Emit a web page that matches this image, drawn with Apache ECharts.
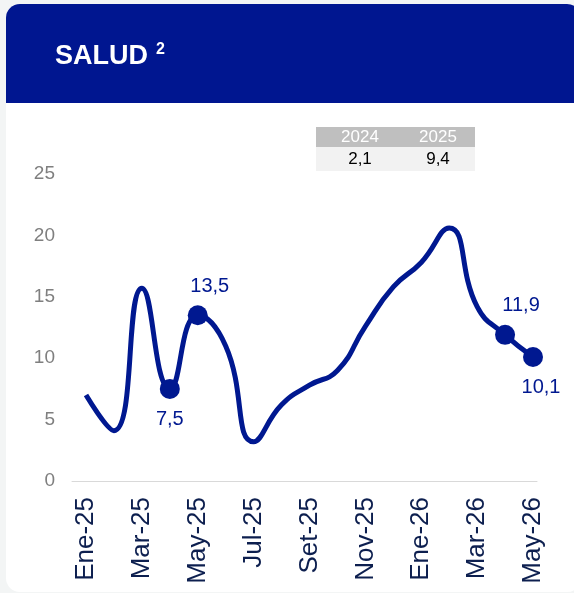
<!DOCTYPE html>
<html><head><meta charset="utf-8">
<script src="https://cdn.jsdelivr.net/npm/echarts@6/dist/echarts.min.js"></script>
<style>html,body{margin:0;padding:0;background:#f3f5f5;}#c{width:574px;height:593px;}</style>
</head><body><div id="c"></div>
<script>
const months = ['Ene-25','Feb-25','Mar-25','Abr-25','May-25','Jun-25','Jul-25','Ago-25','Set-25','Oct-25','Nov-25','Dic-25','Ene-26','Feb-26','Mar-26','Abr-26','May-26'];
const values = [7.0, 4.1, 15.7, 7.5, 13.5, 11.0, 3.2, 6.2, 7.8, 9.0, 12.6, 15.8, 17.8, 20.6, 14.2, 11.9, 10.1];
const markedIdx = [3, 4, 15, 16];
const labelPlace = ['below', 'above', 'above', 'below'];
const tableYears = ['2024', '2025'];
const tableValues = [2.1, 9.4];
const titleText = 'SALUD';
const titleSup = '2';

const fmt = v => String(v.toFixed(1)).replace('.', ',');
const navy = '#001890';

const markerData = months.map((m, i) => {
  const k = markedIdx.indexOf(i);
  if (k < 0) return null;
  const below = labelPlace[k] === 'below';
  return {
    value: values[i],
    label: {
      show: true,
      position: below ? 'bottom' : 'top',
      distance: below ? 11 : 9,
      offset: [i === 4 ? 12 : (i === 15 ? 16 : (i === 16 ? 8 : 0)), 0],
      formatter: p => fmt(p.value)
    }
  };
});

const chart = echarts.init(document.getElementById('c'));
chart.setOption({
  animation: false,
  backgroundColor: '#f3f5f5',
  graphic: [
    { type: 'rect', shape: { x: 6, y: 4, width: 575, height: 588, r: 14 }, style: { fill: '#ffffff' }, z: -10 },
    { type: 'rect', shape: { x: 6, y: 4, width: 575, height: 99, r: [14, 14, 0, 0] }, style: { fill: '#001690' }, z: -9 },
    { type: 'text', x: 55, y: 57, style: { text: titleText, fill: '#ffffff', font: 'bold 27px "Liberation Sans", Arial, sans-serif', verticalAlign: 'middle' }, z: 5 },
    { type: 'text', x: 156, y: 50, style: { text: titleSup, fill: '#ffffff', font: 'bold 16px "Liberation Sans", Arial, sans-serif', verticalAlign: 'middle' }, z: 5 },
    { type: 'rect', shape: { x: 316, y: 127, width: 159, height: 20 }, style: { fill: '#bfbfbf' }, z: 1 },
    { type: 'rect', shape: { x: 316, y: 147, width: 159, height: 24 }, style: { fill: '#f2f2f2' }, z: 1 },
    { type: 'text', x: 360, y: 137, style: { text: tableYears[0], fill: '#ffffff', font: '17px "Liberation Sans", Arial, sans-serif', align: 'center', verticalAlign: 'middle' }, z: 2 },
    { type: 'text', x: 438, y: 137, style: { text: tableYears[1], fill: '#ffffff', font: '17px "Liberation Sans", Arial, sans-serif', align: 'center', verticalAlign: 'middle' }, z: 2 },
    { type: 'text', x: 360, y: 159, style: { text: fmt(tableValues[0]), fill: '#000000', font: '17px "Liberation Sans", Arial, sans-serif', align: 'center', verticalAlign: 'middle' }, z: 2 },
    { type: 'text', x: 438, y: 159, style: { text: fmt(tableValues[1]), fill: '#000000', font: '17px "Liberation Sans", Arial, sans-serif', align: 'center', verticalAlign: 'middle' }, z: 2 }
  ],
  grid: [
    { left: 86, right: 41, top: 174, bottom: 112 },
    { left: 72, right: 37, top: 174, bottom: 112 }
  ],
  xAxis: [
    {
      type: 'category', data: months, boundaryGap: false, gridIndex: 0,
      axisLine: { show: false }, axisTick: { show: false },
      axisLabel: { interval: 1, rotate: 90, margin: 16, color: '#0d1f4f', fontSize: 26, fontFamily: '"Liberation Sans", Arial, sans-serif' }
    },
    {
      type: 'value', gridIndex: 1, min: 0, max: 1,
      axisLine: { show: true, lineStyle: { color: '#d9d9d9', width: 1 } },
      axisTick: { show: false }, axisLabel: { show: false }, splitLine: { show: false }
    }
  ],
  yAxis: [
    {
      type: 'value', min: 0, max: 25, interval: 5, gridIndex: 0,
      axisLine: { show: false }, axisTick: { show: false }, splitLine: { show: false },
      axisLabel: { margin: 31, color: '#7f7f7f', fontSize: 19, fontFamily: '"Liberation Sans", Arial, sans-serif' }
    },
    { type: 'value', gridIndex: 1, min: 0, max: 1, show: false }
  ],
  series: [
    {
      type: 'line', data: values, smooth: 0.5, symbol: 'none',
      lineStyle: { color: navy, width: 5 }, z: 3
    },
    {
      type: 'scatter', data: markerData, symbol: 'circle', symbolSize: 20,
      itemStyle: { color: navy, opacity: 1 },
      label: { color: navy, fontSize: 20, fontFamily: '"Liberation Sans", Arial, sans-serif' },
      z: 4
    }
  ]
});
</script></body></html>
